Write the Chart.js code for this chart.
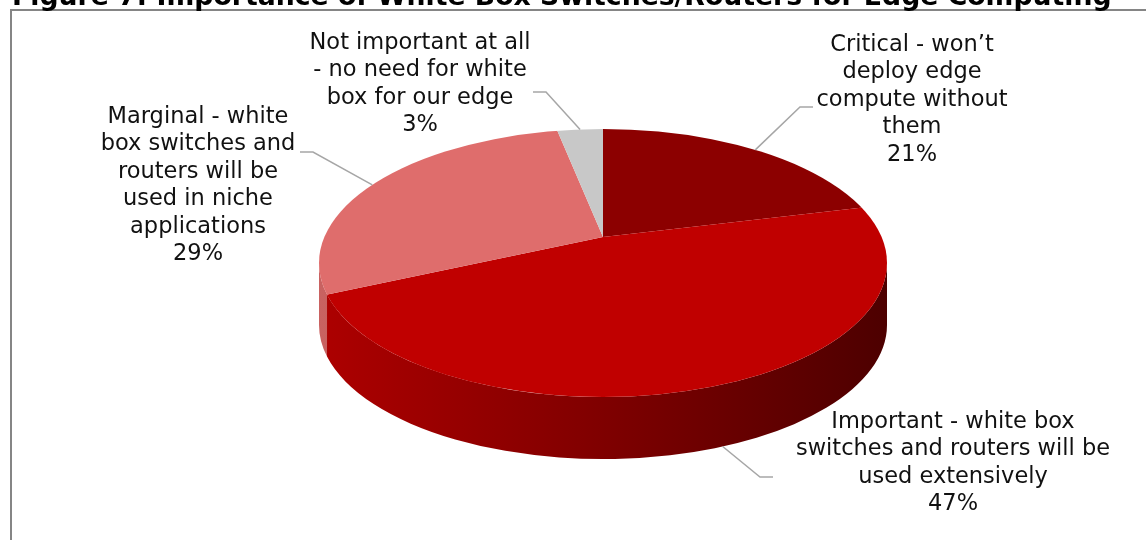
<!DOCTYPE html>
<html>
<head>
<meta charset="utf-8">
<script src="https://cdn.jsdelivr.net/npm/chart.js@4.4.0/dist/chart.umd.min.js"></script>
<style>
  html, body { margin: 0; padding: 0; background: #fff; }
  #wrap { width: 1146px; height: 540px; }
</style>
</head>
<body>
<div id="wrap"><canvas id="edge-chart" width="1146" height="540"></canvas></div>
<script>
// Survey answers, clockwise from 12 o'clock
const titleText = 'Figure 7: Importance of White Box Switches/Routers for Edge Computing';

const categories = [
  ['Critical - won\u2019t', 'deploy edge', 'compute without', 'them'],
  ['Important - white box', 'switches and routers will be', 'used extensively'],
  ['Marginal - white', 'box switches and', 'routers will be', 'used in niche', 'applications'],
  ['Not important at all', '- no need for white', 'box for our edge']
];
const shares = [21, 47, 29, 3];
const sliceColors = ['#8c0000', '#c00000', '#df6d6c', '#c8c8c8'];

// where each callout text sits and how its leader line bends
const labelSpots = [
  { x: 912, y: 45, elbow: [800, 107], end: [813, 107] },
  { x: 953, y: 422, elbow: [760, 477], end: [773, 477] },
  { x: 198, y: 117, elbow: [313, 152], end: [300, 152] },
  { x: 420, y: 43, elbow: [546, 92], end: [533, 92] }
];

function shade(hex, f) {
  const n = parseInt(hex.slice(1), 16);
  const r = Math.round(((n >> 16) & 255) * f);
  const g = Math.round(((n >> 8) & 255) * f);
  const b = Math.round((n & 255) * f);
  return 'rgb(' + r + ',' + g + ',' + b + ')';
}

// the slice apex sits above the rim's centre (fake perspective); find where a
// slice edge from the apex meets the rim, as an angle on the rim ellipse
function rimAngle(theta, o) {
  const dx = o.sx * Math.cos(theta);
  const dy = o.sy * Math.sin(theta);
  const off = o.apexY - o.cy;
  const A = (dx / o.rx) ** 2 + (dy / o.ry) ** 2;
  const B = 2 * off * dy / (o.ry * o.ry);
  const C = (off / o.ry) ** 2 - 1;
  const t = (-B + Math.sqrt(B * B - 4 * A * C)) / (2 * A);
  const px = dx * t / o.rx;
  const py = (off + dy * t) / o.ry;
  let phi = Math.atan2(py, px);
  while (phi < theta - Math.PI) phi += 2 * Math.PI;
  while (phi > theta + Math.PI) phi -= 2 * Math.PI;
  return phi;
}

const tiltedPie = {
  id: 'tiltedPie',
  beforeDraw(chart, args, opts) {
    const ctx = chart.ctx;
    ctx.save();
    ctx.fillStyle = '#fff';
    ctx.fillRect(0, 0, chart.width, chart.height);
    // frame
    ctx.strokeStyle = '#858585';
    ctx.lineWidth = 2;
    ctx.strokeRect(11, 10, 1200, 600);
    // title, only its lower part fits on the page
    let size = 24;
    ctx.font = 'bold ' + size + 'px "DejaVu Sans"';
    size = size * 1100 / ctx.measureText(titleText).width;
    ctx.font = 'bold ' + size.toFixed(2) + 'px "DejaVu Sans"';
    ctx.fillStyle = '#000';
    ctx.textBaseline = 'alphabetic';
    ctx.fillText(titleText, 12, 5);
    ctx.restore();
  },
  beforeDatasetsDraw(chart, args, opts) {
    const ctx = chart.ctx;
    const { cx, cy, rx, ry, depth } = opts;
    const arcs = chart.getDatasetMeta(0).data;

    // side wall, front half only
    ctx.save();
    arcs.forEach((arc, i) => {
      const a = Math.max(rimAngle(arc.startAngle, opts), 0);
      const b = Math.min(rimAngle(arc.endAngle, opts), Math.PI);
      if (b <= a) return;
      const base = sliceColors[i];
      const grad = ctx.createLinearGradient(cx - rx, 0, cx + rx, 0);
      grad.addColorStop(0, shade(base, 0.9));
      grad.addColorStop(0.5, shade(base, 0.66));
      grad.addColorStop(1, shade(base, 0.4));
      ctx.beginPath();
      ctx.ellipse(cx, cy, rx, ry, 0, a, b, false);
      ctx.lineTo(cx + rx * Math.cos(b), cy + depth + ry * Math.sin(b));
      ctx.ellipse(cx, cy + depth, rx, ry, 0, b, a, true);
      ctx.closePath();
      ctx.fillStyle = grad;
      ctx.fill();
    });
    ctx.restore();

    // top face: the chart's own arcs, squashed around the apex and cut to the rim
    const first = arcs[0];
    const R = first.outerRadius;
    ctx.save();
    ctx.beginPath();
    ctx.ellipse(cx, cy, rx, ry, 0, 0, Math.PI * 2);
    ctx.clip();
    ctx.translate(cx, opts.apexY);
    ctx.scale(opts.sx / R, opts.sy / R);
    ctx.translate(-first.x, -first.y);
  },
  afterDatasetsDraw(chart) {
    chart.ctx.restore();
  },
  afterDraw(chart, args, opts) {
    const ctx = chart.ctx;
    const { cx, cy, rx, ry, depth } = opts;
    const arcs = chart.getDatasetMeta(0).data;
    const labels = chart.data.labels;
    const values = chart.data.datasets[0].data;
    ctx.save();
    arcs.forEach((arc, i) => {
      const spot = labelSpots[i];
      const mid = rimAngle((arc.startAngle + arc.endAngle) / 2, opts);
      const ax = cx + rx * Math.cos(mid);
      let ay = cy + ry * Math.sin(mid);
      if (Math.sin(mid) > 0) ay += depth;
      ctx.strokeStyle = '#a6a6a6';
      ctx.lineWidth = 1.5;
      ctx.beginPath();
      ctx.moveTo(ax, ay);
      ctx.lineTo(spot.elbow[0], spot.elbow[1]);
      ctx.lineTo(spot.end[0], spot.end[1]);
      ctx.stroke();

      const lines = labels[i].concat([values[i] + '%']);
      ctx.font = '22.5px "DejaVu Sans"';
      ctx.fillStyle = '#111';
      ctx.textAlign = 'center';
      ctx.textBaseline = 'middle';
      lines.forEach((t, k) => ctx.fillText(t, spot.x, spot.y + k * 27.5));
    });
    ctx.restore();
  }
};

new Chart(document.getElementById('edge-chart'), {
  type: 'pie',
  data: {
    labels: categories,
    datasets: [{
      data: shares,
      backgroundColor: sliceColors,
      borderWidth: 0
    }]
  },
  options: {
    responsive: false,
    devicePixelRatio: 1,
    animation: false,
    events: [],
    plugins: {
      legend: { display: false },
      tooltip: { enabled: false },
      tiltedPie: { cx: 603, cy: 263, rx: 284, ry: 134, depth: 62, apexY: 237, sx: 390, sy: 173 }
    }
  },
  plugins: [tiltedPie]
});
</script>
</body>
</html>
